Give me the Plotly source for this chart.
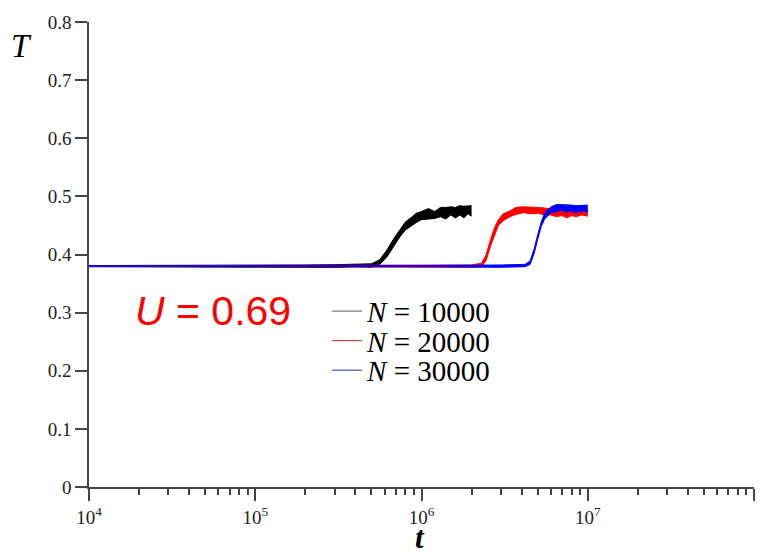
import plotly.graph_objects as go

# ---- data ----
t_black = [1e4, 3e4, 1e5, 2e5, 3e5, 4e5, 5e5, 5.6e5, 6.2e5, 6.8e5, 7.4e5, 8e5, 8.7e5, 9.3e5,
           1.0e6, 1.1e6, 1.2e6, 1.3e6, 1.4e6, 1.5e6, 1.6e6, 1.7e6, 1.8e6, 1.9e6, 2e6]
T_black = [0.380, 0.380, 0.380, 0.380, 0.380, 0.381, 0.381, 0.387, 0.402, 0.421, 0.436, 0.449, 0.457, 0.463,
           0.467, 0.470, 0.468, 0.473, 0.471, 0.475, 0.472, 0.476, 0.473, 0.477, 0.475]
s_black = [0.001, 0.001, 0.0015, 0.002, 0.0025, 0.002, 0.003, 0.004, 0.006, 0.006, 0.006, 0.007, 0.007, 0.008,
           0.007, 0.009, 0.006, 0.008, 0.010, 0.007, 0.009, 0.008, 0.010, 0.007, 0.009]

t_red = [1e4, 1e5, 5e5, 1e6, 2e6, 2.3e6, 2.45e6, 2.6e6, 2.75e6, 2.9e6, 3.1e6, 3.4e6, 3.7e6, 4.1e6,
         4.5e6, 5e6, 5.5e6, 6e6, 6.5e6, 7e6, 7.5e6, 8e6, 8.5e6, 9.2e6, 1e7]
T_red = [0.380, 0.380, 0.380, 0.380, 0.380, 0.382, 0.395, 0.420, 0.440, 0.455, 0.464, 0.470, 0.475, 0.477,
         0.476, 0.476, 0.474, 0.473, 0.471, 0.472, 0.470, 0.472, 0.471, 0.473, 0.472]
s_red = [0.0005, 0.001, 0.002, 0.002, 0.002, 0.003, 0.005, 0.006, 0.006, 0.005, 0.006, 0.005, 0.006, 0.005,
         0.006, 0.005, 0.006, 0.005, 0.006, 0.005, 0.007, 0.005, 0.006, 0.005, 0.006]

t_blue = [1e4, 1e5, 1e6, 3e6, 4.2e6, 4.5e6, 4.75e6, 5e6, 5.25e6, 5.5e6, 6e6, 6.5e6, 7e6, 7.5e6,
          8e6, 8.5e6, 9.2e6, 1e7]
T_blue = [0.380, 0.380, 0.380, 0.380, 0.381, 0.386, 0.405, 0.430, 0.452, 0.466, 0.477, 0.480, 0.481, 0.479,
          0.480, 0.478, 0.480, 0.479]
s_blue = [0.0005, 0.0005, 0.001, 0.002, 0.002, 0.003, 0.004, 0.004, 0.004, 0.005, 0.005, 0.006, 0.005, 0.006,
          0.005, 0.006, 0.005, 0.006]

series_names = ["<i>N</i> = 10000", "<i>N</i> = 20000", "<i>N</i> = 30000"]
x_tickvals = [1e4, 1e5, 1e6, 1e7, 1e8]
x_ticktext = ["10<sup>4</sup>", "10<sup>5</sup>", "10<sup>6</sup>", "10<sup>7</sup>", "10<sup>8</sup>"]

fig = go.Figure()

def add_series(t, T, s, color, legcolor, name, legend_id):
    upper = [a + b for a, b in zip(T, s)]
    lower = [a - b for a, b in zip(T, s)]
    fig.add_trace(go.Scatter(x=t, y=upper, mode="lines", line=dict(color=color, width=1),
                             showlegend=False, hoverinfo="skip"))
    fig.add_trace(go.Scatter(x=t, y=lower, mode="lines", line=dict(color=color, width=1),
                             fill="tonexty", fillcolor=color, showlegend=False, hoverinfo="skip"))
    fig.add_trace(go.Scatter(x=[None], y=[None], mode="lines", line=dict(color=legcolor, width=1),
                             name=name, legend=legend_id))

add_series(t_black, T_black, s_black, "#000000", "#555555", series_names[0], "legend")
add_series(t_red, T_red, s_red, "#ff0000", "#b03030", series_names[1], "legend2")
add_series(t_blue, T_blue, s_blue, "#0000ff", "#2a2ab8", series_names[2], "legend3")

minor_vals = [m * 10 ** e for e in range(4, 8) for m in range(2, 10)]

axis_font = dict(family="Liberation Serif", size=19, color="#222222")
fig.update_xaxes(type="log", range=[4, 8], tickvals=x_tickvals, ticktext=x_ticktext,
                 ticks="outside", ticklen=12, tickwidth=1.5, tickcolor="#444444",
                 showline=True, linecolor="#444444", linewidth=1.5, showgrid=False, zeroline=False,
                 tickfont=axis_font,
                 minor=dict(tickvals=minor_vals, ticks="outside", ticklen=6, tickwidth=1.5,
                            tickcolor="#444444", showgrid=False))
fig.update_yaxes(range=[0, 0.8], dtick=0.1, tick0=0, ticks="outside", ticklen=12, tickwidth=1.5,
                 tickcolor="#444444", showline=True, linecolor="#444444", linewidth=1.5,
                 showgrid=False, zeroline=False, tickfont=axis_font)

fig.add_annotation(text="<i>T</i>", xref="paper", yref="paper", x=-0.101, y=0.949,
                   xanchor="center", yanchor="middle",
                   showarrow=False, font=dict(family="Liberation Serif", size=33, color="#000000"))
fig.add_annotation(text="<b><i>t</i></b>", xref="paper", yref="paper", x=0.498, y=-0.108,
                   xanchor="center", yanchor="middle",
                   showarrow=False, font=dict(family="Liberation Serif", size=31, color="#000000"))
fig.add_annotation(text="<i>U</i> = 0.69", xref="paper", yref="paper", x=0.0662, y=0.379,
                   xanchor="left", yanchor="middle",
                   showarrow=False, font=dict(family="Liberation Sans", size=41, color="#ff0000"))

leg_common = dict(x=0.358, xanchor="left", yanchor="middle",
                  font=dict(family="Liberation Serif", size=29, color="#000000"),
                  bgcolor="rgba(0,0,0,0)", itemwidth=30)

fig.update_layout(
    width=766, height=554,
    margin=dict(l=89, r=12, t=15, b=67),
    paper_bgcolor="white", plot_bgcolor="white",
    legend=dict(y=0.378, **leg_common),
    legend2=dict(y=0.3144, **leg_common),
    legend3=dict(y=0.2509, **leg_common),
)

fig.write_html("out.html")
